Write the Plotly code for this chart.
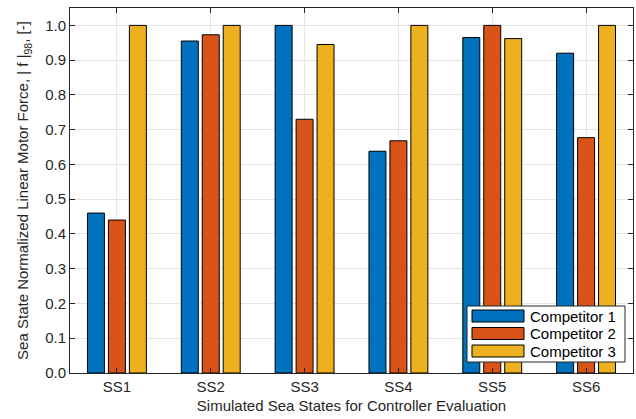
import plotly.graph_objects as go

categories = ["SS1", "SS2", "SS3", "SS4", "SS5", "SS6"]
competitor1 = [0.46, 0.955, 1.0, 0.638, 0.965, 0.92]
competitor2 = [0.44, 0.973, 0.73, 0.668, 1.0, 0.677]
competitor3 = [1.0, 1.0, 0.945, 1.0, 0.962, 1.0]
series_names = ["Competitor 1", "Competitor 2", "Competitor 3"]
colors = ["#0072BD", "#D95319", "#EDB120"]

W, H = 636, 419
ML, MR, MT, MB = 70, 3, 8, 46
PW, PH = W - ML - MR, H - MT - MB


def px(x):
    return (x - ML) / PW


def py(y):
    return (H - MB - y) / PH


fig = go.Figure()
for name, vals, c in zip(series_names, [competitor1, competitor2, competitor3], colors):
    fig.add_trace(go.Bar(x=categories, y=vals, name=name, showlegend=False,
                         marker=dict(color=c, line=dict(color="black", width=1))))

# MATLAB-style legend box (decoration)
shapes = [dict(type="rect", xref="paper", yref="paper",
               x0=px(467), x1=px(625), y0=py(362), y1=py(306),
               fillcolor="white", line=dict(color="#262626", width=1), layer="above")]
annotations = []
for i, (name, c) in enumerate(zip(series_names, colors)):
    top = 310 + i * 17.5
    shapes.append(dict(type="rect", xref="paper", yref="paper",
                       x0=px(472), x1=px(524), y0=py(top + 12), y1=py(top),
                       fillcolor=c, line=dict(color="black", width=1), layer="above"))
    annotations.append(dict(xref="paper", yref="paper", x=px(528), y=py(top + 6),
                            xanchor="left", yanchor="middle", text=name, showarrow=False,
                            font=dict(size=15, color="black")))

font = "Liberation Sans, Arial, Helvetica, sans-serif"
fig.update_layout(
    width=W, height=H,
    margin=dict(l=ML, r=MR, t=MT, b=MB),
    paper_bgcolor="white", plot_bgcolor="white",
    barmode="group", bargap=0.33, bargroupgap=0.19,
    font=dict(family=font, size=15, color="#262626"),
    showlegend=False,
    shapes=shapes, annotations=annotations,
    xaxis=dict(title=dict(text="Simulated Sea States for Controller Evaluation",
                          font=dict(size=15, color="#262626"), standoff=6),
               automargin=False,
               showgrid=True, gridcolor="#E5E5E5", gridwidth=1,
               showline=True, linecolor="#262626", linewidth=1, mirror="ticks",
               ticks="inside", ticklen=5, tickcolor="#262626",
               tickfont=dict(size=15)),
    yaxis=dict(title=dict(text="Sea State Normalized Linear Motor Force, | f |<sub>98</sub>, [-]",
                          font=dict(size=15, color="#262626"), standoff=12),
               automargin=False,
               range=[0, 1.05], tickvals=[i / 10 for i in range(11)], tickformat=".1f",
               showgrid=True, gridcolor="#E5E5E5", gridwidth=1,
               showline=True, linecolor="#262626", linewidth=1, mirror="ticks",
               ticks="inside", ticklen=5, tickcolor="#262626",
               zeroline=False, tickfont=dict(size=15)),
)
fig.write_html("out.html", config={"displayModeBar": False},
               post_script="document.body.style.margin='0';document.body.style.overflow='hidden';")
